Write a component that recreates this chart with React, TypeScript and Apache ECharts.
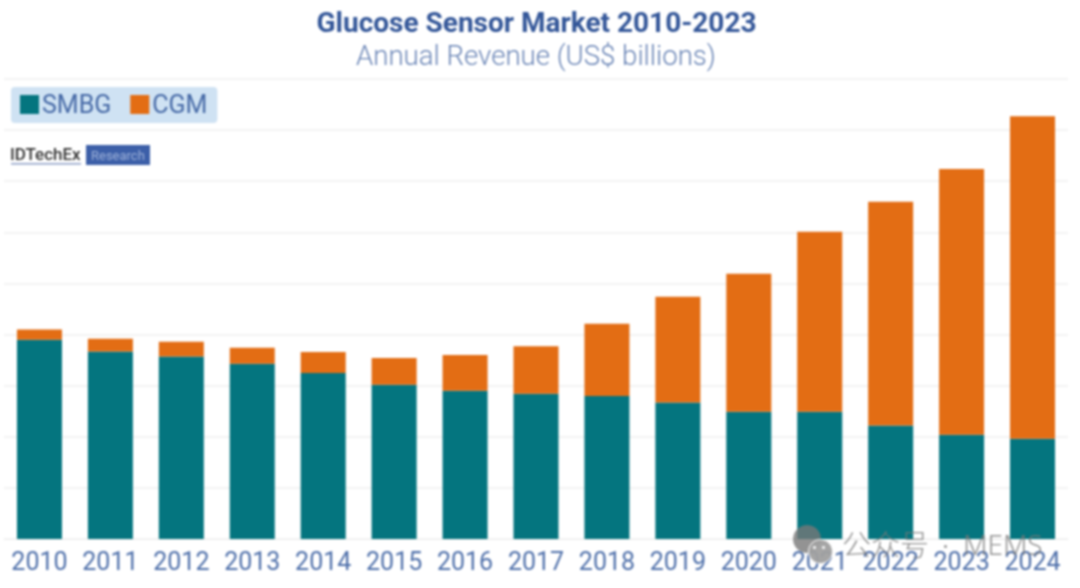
import React, { useEffect, useRef } from "react";
import * as echarts from "echarts";

const years = ["2010","2011","2012","2013","2014","2015","2016","2017","2018","2019","2020","2021","2022","2023","2024"];
const smbg = [3.90,3.67,3.57,3.43,3.25,3.02,2.90,2.84,2.80,2.67,2.49,2.49,2.22,2.04,1.96];
const cgm = [0.20,0.25,0.29,0.31,0.41,0.52,0.70,0.93,1.41,2.07,2.70,3.52,4.38,5.20,6.31];

const titleText = "Glucose Sensor Market 2010-2023";
const subtitleText = "Annual Revenue (US$ billions)";
const BLUE = "#345799";
const LABEL = "#4f70aa";

export default function App() {
  const ref = useRef<HTMLDivElement>(null);
  useEffect(() => {
    const chart = echarts.init(ref.current!, null, { renderer: "svg" });
    chart.setOption({
      animation: false,
      backgroundColor: "#ffffff",
      textStyle: { fontFamily: "Roboto" },
      title: {
        text: titleText,
        left: 531.5,
        textAlign: "center",
        top: 1,
        textStyle: { fontFamily: "Roboto", fontSize: 28, fontWeight: 700, color: BLUE, lineHeight: 32 },
      },
      legend: {
        left: 11,
        top: 87,
        padding: [5, 10, 6, 9],
        backgroundColor: "#cfe2f3",
        borderRadius: 4,
        itemWidth: 19,
        itemHeight: 19,
        itemGap: 19,
        icon: "rect",
        textStyle: { fontFamily: "Roboto", fontSize: 25, color: "#4669a6", padding: [0, 0, 0, -2] },
        data: ["SMBG", "CGM"],
      },
      grid: { left: 4, right: 12, top: 79, bottom: 49, containLabel: false },
      xAxis: {
        type: "category",
        data: years,
        axisTick: { show: false },
        axisLine: { lineStyle: { color: "#eeeeee", width: 1 } },
        axisLabel: { fontFamily: "Roboto", fontSize: 25, color: LABEL, margin: 10, interval: 0 },
      },
      yAxis: {
        type: "value",
        min: 0,
        max: 9,
        interval: 1,
        axisLabel: { show: false },
        axisLine: { show: false },
        axisTick: { show: false },
        splitLine: { lineStyle: { color: "#efefef", width: 1.5 } },
      },
      series: [
        { name: "SMBG", type: "bar", stack: "total", barWidth: 45, data: smbg, itemStyle: { color: "#04757f" } },
        { name: "CGM", type: "bar", stack: "total", barWidth: 45, data: cgm, itemStyle: { color: "#e36d14" } },
      ],
      color: ["#1a6a85", "#ee7428"],
      graphic: [
        { type: "text", left: 356, top: 41, z: 10, style: { text: subtitleText, fontFamily: "Roboto", fontSize: 27.6, fontWeight: 300, fill: "#6a85b6" } },
        { type: "text", left: 10, top: 145, z: 10, style: { text: "IDTechEx", fontFamily: "Roboto", fontSize: 17, fontWeight: 500, fill: "#333333" } },
        { type: "rect", left: 11, top: 163, z: 10, shape: { width: 70, height: 1.5 }, style: { fill: "#8a9cc4" } },
        { type: "rect", left: 86, top: 145, z: 10, shape: { width: 64, height: 20 }, style: { fill: "#3c5fa8" } },
        { type: "text", left: 91, top: 149, z: 11, style: { text: "Research", fontFamily: "Roboto", fontSize: 13, fill: "#9fb3da" } },
        { type: "circle", left: 793, top: 525, z: 20, shape: { r: 14 }, style: { fill: "rgba(120,120,120,0.8)" } },
        { type: "circle", left: 808, top: 539, z: 21, shape: { r: 12 }, style: { fill: "rgba(160,160,160,0.95)", stroke: "#ffffff", lineWidth: 1 } },
        { type: "circle", left: 813, top: 546, z: 22, shape: { r: 1.5 }, style: { fill: "#ffffff" } },
        { type: "circle", left: 822, top: 546, z: 22, shape: { r: 1.5 }, style: { fill: "#ffffff" } },
        { type: "text", left: 842, top: 528, z: 20, style: { text: "公众号", fontFamily: "Noto Sans CJK SC", fontSize: 29, fontWeight: 300, fill: "rgba(120,120,120,0.8)" } },
        { type: "circle", left: 944, top: 545, z: 20, shape: { r: 1.5 }, style: { fill: "rgba(120,120,120,0.8)" } },
        { type: "text", left: 963, top: 530, z: 20, style: { text: "MEMS", fontFamily: "Noto Sans", fontSize: 28, fontWeight: 300, fill: "rgba(120,120,120,0.8)" } },
      ],
    });
    return () => chart.dispose();
  }, []);
  return (
    <div
      ref={ref}
      style={{ position: "absolute", left: 0, top: 0, width: 1080, height: 588, filter: "blur(0.8px)" }}
    />
  );
}
